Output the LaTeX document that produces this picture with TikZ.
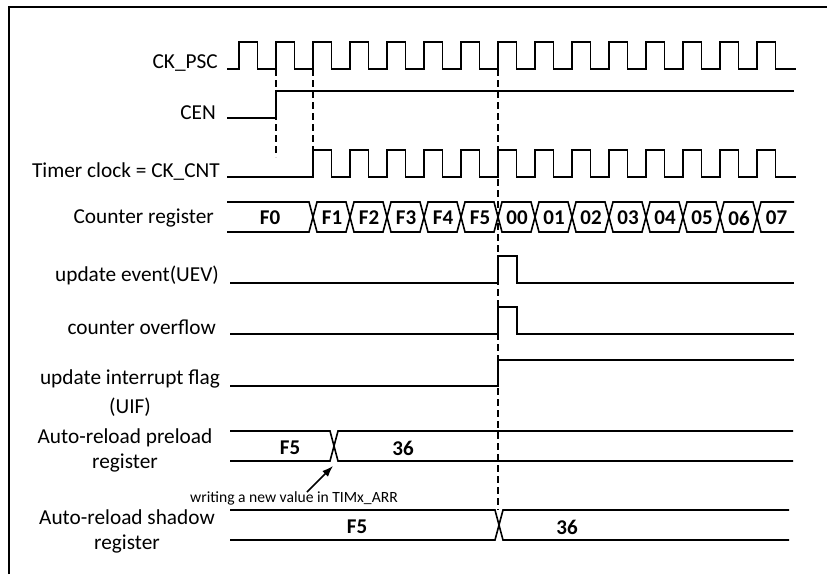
\documentclass[tikz,border=0pt]{standalone}
\usepackage{fontspec}
\setmainfont{Carlito}
\usetikzlibrary{arrows.meta}
\tikzset{
  sig/.style={line width=1.6pt, line join=miter},
  guide/.style={line width=1.5pt, dash pattern=on 7pt off 4pt},
  lbl/.style={font=\fontsize{21.3}{26}\selectfont, inner sep=0pt, align=center},
  val/.style={font=\fontsize{21}{25}\selectfont\bfseries, inner sep=0pt},
  note/.style={font=\fontsize{15.6}{18}\selectfont, inner sep=0pt}
}
\begin{document}
\begin{tikzpicture}[x=1pt,y=-1pt]
\useasboundingbox (0,0) rectangle (827,574);
\fill[white] (0,0) rectangle (827,574);
% frame
\draw[line width=1.5pt] (9,574) -- (9,7) -- (827,7);

% labels
\node[lbl, anchor=east] (lpsc) at (218,63) {CK\_PSC};
\node[lbl, anchor=east] (lcen) at (216,113) {CEN};
\node[lbl, anchor=east] (lcnt) at (220,172) {Timer clock = CK\_CNT};
\node[lbl, anchor=east] (lreg) at (214,218) {Counter register};
\node[lbl, anchor=east] (luev) at (219,275) {update event(UEV)};
\node[lbl, anchor=east] (lovf) at (216,327) {counter overflow};
\node[lbl] (luif) at (130,393) {update interrupt flag\\[3pt](UIF)};
\node[lbl] (lpre) at (125,450) {Auto-reload preload\\[-1pt]register};
\node[lbl] (lsha) at (127,531) {Auto-reload shadow\\[-1pt]register};

% dashed guides
\draw[guide] (276,69) -- (276,157);
\draw[guide] (313,69) -- (313,150);
\draw[guide] (498,69) -- (498,510);

% CK_PSC
\draw[sig] (227,69) foreach \k in {0,...,14}{ -- ({239+37*\k},69) -- ({239+37*\k},42) -- ({257.5+37*\k},42) -- ({257.5+37*\k},69)} -- (796,69);
% CEN
\draw[sig] (227,118) -- (276,118) -- (276,91) -- (794,91);
% CK_CNT
\draw[sig] (227,177) foreach \k in {0,...,12}{ -- ({313+37*\k},177) -- ({313+37*\k},150) -- ({331.5+37*\k},150) -- ({331.5+37*\k},177)} -- (796,177);

% Counter register bus
\draw[sig] (227,202) -- (309,202) -- (313,217) -- (309,232) -- (227,232);
\node[val] (vF0) at (270,218) {F0};
\foreach \a/\t in {313/F1, 350/F2, 387/F3, 424/F4, 461/F5, 498/00, 535/01, 572/02, 609/03, 646/04, 683/05, 720/06}{
  \draw[sig] ({\a+4},202) -- ({\a+33},202) -- ({\a+37},217) -- ({\a+33},232) -- ({\a+4},232) -- (\a,217) -- cycle;
  \node[val] (v\a) at ({\a+19},218) {\t};
}
\draw[sig] (794,202) -- (761,202) -- (757,217) -- (761,232) -- (794,232);
\node[val] (v757) at (776.5,218) {07};

% update event
\draw[sig] (230,283) -- (498,283) -- (498,256) -- (517,256) -- (517,283) -- (794,283);
% counter overflow
\draw[sig] (230,334) -- (498,334) -- (498,307) -- (517,307) -- (517,334) -- (794,334);
% UIF
\draw[sig] (230,386) -- (498,386) -- (498,360) -- (794,360);

% Auto-reload preload
\draw[sig] (230,431) -- (330,431) -- (338,461) -- (793,461);
\draw[sig] (230,461) -- (330,461) -- (338,431) -- (793,431);
\node[val] (pF5) at (290,448) {F5};
\node[val] (p36) at (403,448) {36};
\coordinate (xpre) at (333,466);
\coordinate (astart) at (307,492);
\draw[line width=1.5pt, -{Latex[length=11pt,width=8pt]}] (astart) -- (xpre);
\node[note] (wnote) at (294,498) {writing a new value in TIMx\_ARR};

% Auto-reload shadow
\draw[sig] (230,510) -- (495,510) -- (503,540) -- (789,540);
\draw[sig] (230,540) -- (495,540) -- (503,510) -- (789,510);
\node[val] (sF5) at (357,527) {F5};
\node[val] (s36) at (567,527) {36};
\end{tikzpicture}
\end{document}
